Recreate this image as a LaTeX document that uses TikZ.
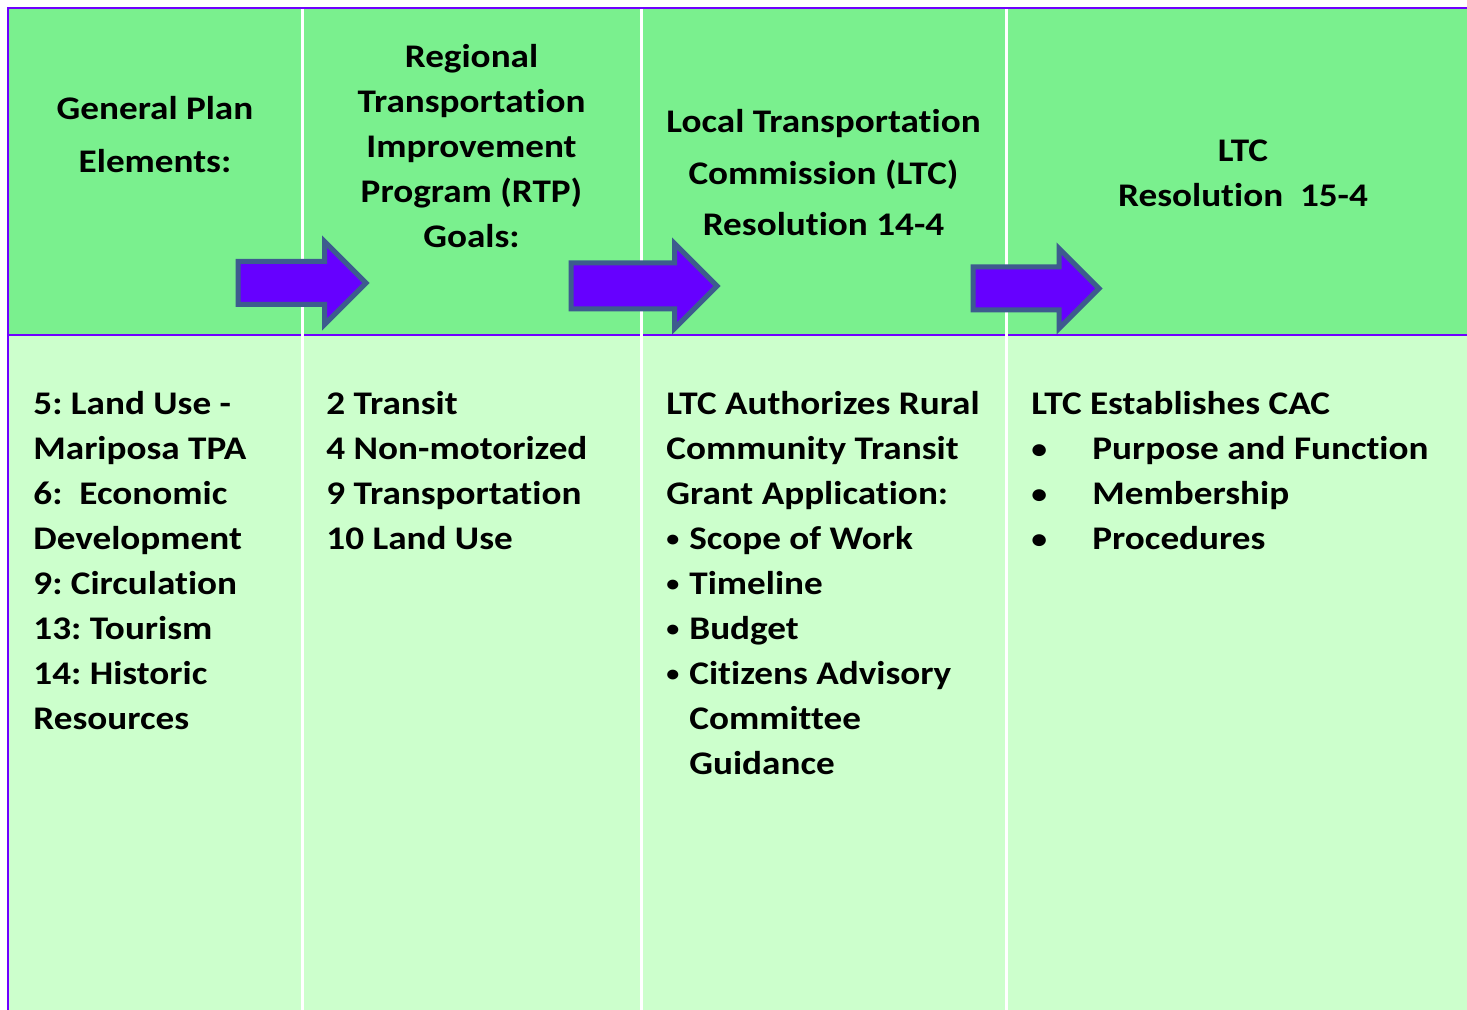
\documentclass[tikz,border=0pt]{standalone}
\usepackage{fontspec}
\usepackage{graphicx}
\setmainfont{Carlito}[FakeStretch=1.127, Ligatures=NoCommon]
\frenchspacing
\usetikzlibrary{shapes.arrows}

\definecolor{headgreen}{HTML}{7AF08E}
\definecolor{bodygreen}{HTML}{CCFFCC}
\definecolor{framepurple}{HTML}{7000FF}
\definecolor{arrowfill}{HTML}{6600FF}
\definecolor{arrowline}{HTML}{3D5C8E}

\tikzset{
  headtext/.style={anchor=north, inner sep=0pt, align=center},
  bodytext/.style={anchor=north west, inner sep=0pt, align=left,
    font=\fontsize{16.5pt}{22.5pt}\selectfont\bfseries},
  flowarrow/.style={single arrow, draw=arrowline, fill=arrowfill,
    line width=2.5pt, inner sep=0pt, text height=9.5pt, text depth=9.5pt,
    anchor=tail}
}
\newcommand{\bul}{\makebox[11.5pt][l]{\raisebox{1.6pt}{\scalebox{0.7}{•}}}}
\newcommand{\bulwide}{\makebox[30.5pt][l]{\raisebox{0.8pt}{\scalebox{0.85}{•}}}}

\begin{document}
\begin{tikzpicture}[x=0.5pt, y=-0.5pt]
  \clip (0,0) rectangle (1467,1010);
  % table
  \fill[headgreen] (8,8) rectangle (1480,335);
  \fill[bodygreen] (8,335) rectangle (1480,1030);
  \draw[framepurple, line width=1pt] (8,1030) -- (8,8) -- (1480,8);
  \draw[framepurple, line width=1pt] (8,335) -- (1480,335);
  \foreach \x in {302, 641, 1006}
    \draw[white, line width=1.5pt] (\x,9) -- (\x,1030);

  % arrows
  \node[flowarrow, minimum height=64pt, single arrow head extend=10pt]
    (arrowA) at (235.5,283) {};
  \node[flowarrow, minimum height=73pt, single arrow head extend=9.75pt,
    text height=10.25pt, text depth=10.25pt]
    (arrowB) at (568.5,286) {};
  \node[flowarrow, minimum height=63pt, single arrow head extend=9.25pt]
    (arrowC) at (970.5,288.5) {};

  % header texts
  \node[headtext, font=\fontsize{16.5pt}{26.5pt}\selectfont\bfseries]
    (headPlan) at (155,82) {\strut General Plan\\Elements:};
  \node[headtext, font=\fontsize{16.5pt}{22.5pt}\selectfont\bfseries]
    (headRTP) at (471.5,35.5) {\strut Regional\\Transportation\\Improvement\\Program (RTP)\\Goals:};
  \node[headtext, font=\fontsize{16.5pt}{25.75pt}\selectfont\bfseries]
    (headLTC) at (823.5,96.5) {\strut Local Transportation\\Commission (LTC)\\Resolution 14-4};
  \node[headtext, font=\fontsize{16.5pt}{22.5pt}\selectfont\bfseries]
    (headRes) at (1243,130) {\strut LTC\\Resolution\ \ 15-4};

  % body texts
  \node[bodytext] (bodyPlan) at (33,383) {\strut 5: Land Use -\\Mariposa TPA\\6:\ \ Economic\\Development\\9: Circulation\\13: Tourism\\14: Historic\\Resources};
  \node[bodytext] (bodyRTP) at (326,383) {\strut 2 Transit\\4 Non-motorized\\9 Transportation\\10 Land Use};
  \node[bodytext] (bodyLTC) at (666,383) {\strut LTC Authorizes Rural\\Community Transit\\Grant Application:\\\bul Scope of Work\\\bul Timeline\\\bul Budget\\\bul Citizens Advisory\\\hspace*{11.5pt}Committee\\\hspace*{11.5pt}Guidance};
  \node[bodytext] (bodyRes) at (1031,383) {\strut LTC Establishes CAC\\\bulwide Purpose and Function\\\bulwide Membership\\\bulwide Procedures};
\end{tikzpicture}
\end{document}
